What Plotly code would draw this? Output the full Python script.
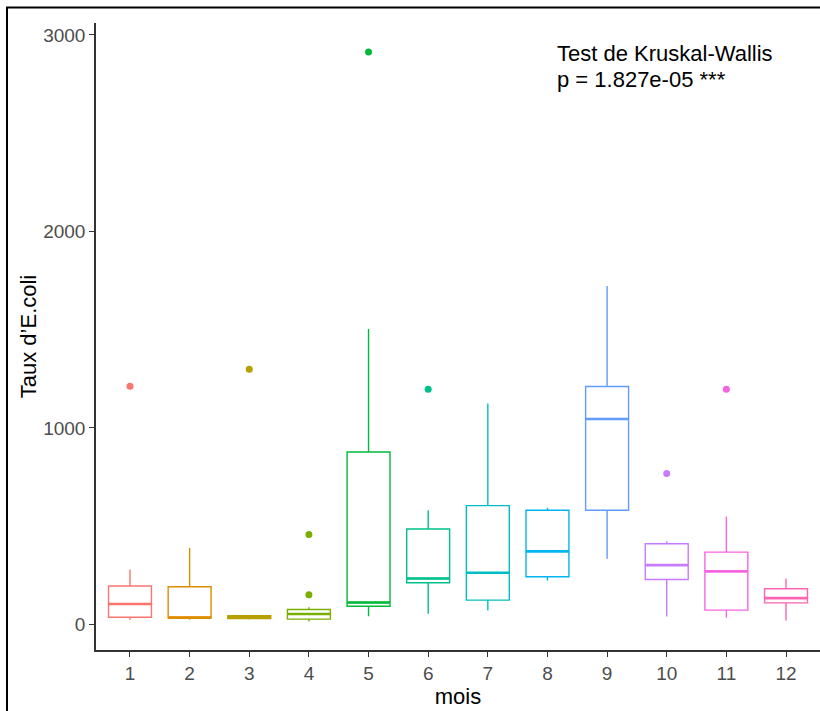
import plotly.graph_objects as go

months = [1, 2, 3, 4, 5, 6, 7, 8, 9, 10, 11, 12]
lower = [24, 24, 25, 15, 42, 54, 71, 224, 335, 41, 34, 20]
q1 = [37, 33, 30, 27, 93, 212, 124, 243, 581, 229, 73, 110]
median = [104, 34, 37, 53, 112, 234, 263, 372, 1046, 302, 270, 134]
q3 = [196, 192, 45, 76, 878, 486, 605, 581, 1211, 411, 368, 182]
upper = [280, 389, 45, 88, 1504, 581, 1124, 594, 1723, 424, 550, 233]
outlier_month = [1, 3, 4, 4, 5, 6, 10, 11]
outlier_value = [1212, 1299, 458, 151, 2913, 1197, 768, 1197]
colors = ["#F8766D", "#DE8C00", "#B79F00", "#7CAE00", "#00BA38", "#00C08B",
          "#00BFC4", "#00B4F0", "#619CFF", "#C77CFF", "#F564E3", "#FF64B0"]
y_ticks = [0, 1000, 2000, 3000]

BW = 0.72
FONT = "Liberation Sans, Arial"
fig = go.Figure()
for i, m in enumerate(months):
    fig.add_trace(go.Box(
        x=[m], q1=[q1[i]], median=[median[i]], q3=[q3[i]],
        lowerfence=[lower[i]], upperfence=[upper[i]],
        width=BW, whiskerwidth=0, boxpoints=False,
        fillcolor="rgba(0,0,0,0)", line=dict(color=colors[i], width=1.4),
        showlegend=False, hoverinfo="skip"))
    fig.add_trace(go.Scatter(
        x=[m - BW / 2, m + BW / 2], y=[median[i], median[i]], mode="lines",
        line=dict(color=colors[i], width=2.6), showlegend=False, hoverinfo="skip"))

fig.add_trace(go.Scatter(
    x=outlier_month, y=outlier_value, mode="markers",
    marker=dict(size=7, color=[colors[m - 1] for m in outlier_month]),
    showlegend=False, hoverinfo="skip"))

fig.add_annotation(x=8.13, y=2908, xref="x", yref="y", xanchor="left", yanchor="middle",
                   text="Test de Kruskal-Wallis", showarrow=False,
                   font=dict(family=FONT, size=22, color="black"))
fig.add_annotation(x=8.13, y=2771, xref="x", yref="y", xanchor="left", yanchor="middle",
                   text="p = 1.827e-05 ***", showarrow=False,
                   font=dict(family=FONT, size=22, color="black"))

fig.add_shape(type="rect", xref="paper", yref="paper",
              x0=-89 / 724, x1=1.02, y0=-0.12, y1=(650 - 7.5) / 627,
              line=dict(color="black", width=2), fillcolor="rgba(0,0,0,0)", layer="above")

fig.update_layout(
    width=820, height=711,
    margin=dict(l=96, r=0, t=23, b=61),
    paper_bgcolor="white", plot_bgcolor="white",
    font=dict(family=FONT, color="#4D4D4D"),
    xaxis=dict(range=[0.43, 12.57], tickmode="array", tickvals=months,
               ticktext=[str(m) for m in months], showgrid=False, zeroline=False,
               showline=True, linecolor="#333333", linewidth=1.5,
               ticks="outside", ticklen=5, tickcolor="#333333", tickwidth=1.2,
               tickfont=dict(size=19, color="#4D4D4D"),
               title=dict(text="mois", font=dict(size=22, color="black"), standoff=6)),
    yaxis=dict(range=[-130, 3061], tickmode="array", tickvals=y_ticks,
               ticktext=[str(v) for v in y_ticks], showgrid=False, zeroline=False,
               showline=True, linecolor="#333333", linewidth=1.5,
               ticks="outside", ticklen=5, tickcolor="#333333", tickwidth=1.2,
               tickfont=dict(size=19, color="#4D4D4D"),
               title=dict(text="Taux d’E.coli", font=dict(size=22, color="black"), standoff=0)),
)
fig.write_html("out.html")
